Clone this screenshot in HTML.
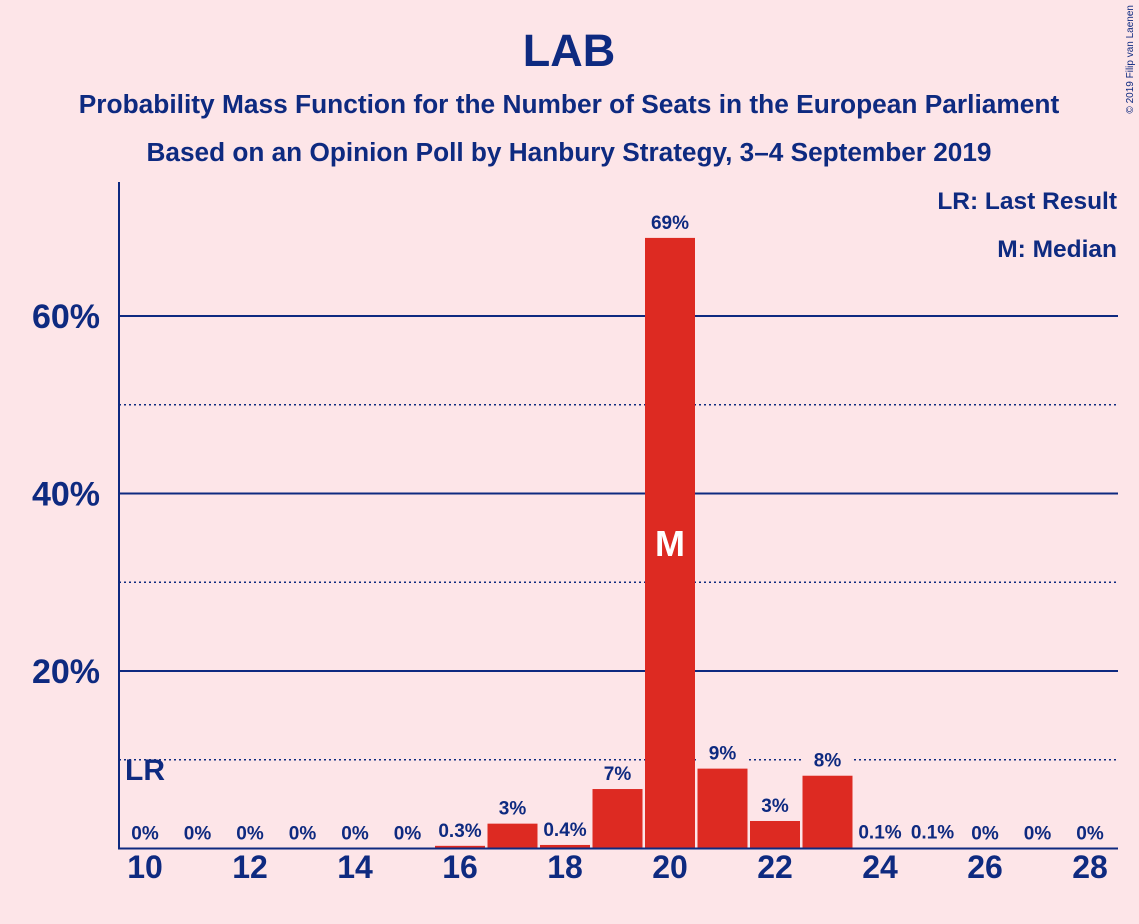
<!DOCTYPE html>
<html><head><meta charset="utf-8"><style>
body{margin:0;background:#fde5e8;}
svg{display:block;font-family:"Liberation Sans",sans-serif;}
</style></head><body>
<svg id="chart" width="1139" height="924" viewBox="0 0 1139 924">
<rect width="1139" height="924" fill="#fde5e8"/>
<text x="569" y="66" text-anchor="middle" font-size="45" font-weight="bold" fill="#0e2a80">LAB</text>
<text x="569" y="113" text-anchor="middle" font-size="26.3" font-weight="bold" fill="#0e2a80">Probability Mass Function for the Number of Seats in the European Parliament</text>
<text x="569" y="161" text-anchor="middle" font-size="26.2" font-weight="bold" fill="#0e2a80">Based on an Opinion Poll by Hanbury Strategy, 3–4 September 2019</text>
<text x="1133" y="5" font-size="10" fill="#0e2a80" transform="rotate(-90 1133 5)" text-anchor="end">© 2019 Filip van Laenen</text>
<text x="1117" y="209" text-anchor="end" font-size="24.5" font-weight="bold" fill="#0e2a80">LR: Last Result</text>
<text x="1117" y="257" text-anchor="end" font-size="24.5" font-weight="bold" fill="#0e2a80">M: Median</text>
<g id="grid"></g>
<g id="bars"></g>
<g id="labels"></g>
<line x1="119" y1="182" x2="119" y2="849" stroke="#0e2a80" stroke-width="2"/>
<line x1="118" y1="848.5" x2="1118" y2="848.5" stroke="#0e2a80" stroke-width="2"/>
</svg>
<script>
const seats=[10,11,12,13,14,15,16,17,18,19,20,21,22,23,24,25,26,27,28];
const probs=[0,0,0,0,0,0,0.3,2.8,0.4,6.7,68.8,9,3.1,8.2,0.1,0.1,0,0,0];
const valueLabels=["0%","0%","0%","0%","0%","0%","0.3%","3%","0.4%","7%","69%","9%","3%","8%","0.1%","0.1%","0%","0%","0%"];
const yTicks=[20,40,60];
const yMinor=[10,30,50];
const xTicks=[10,12,14,16,18,20,22,24,26,28];
const lastResult=10, median=20;
const NS="http://www.w3.org/2000/svg";
const X=s=>145+(s-10)*52.5;
const Y=v=>848.5-v*8.875;
const C="#0e2a80";
function mk(t,a,p){const e=document.createElementNS(NS,t);for(const k in a)e.setAttribute(k,a[k]);p.appendChild(e);return e;}
const grid=document.getElementById('grid'),bars=document.getElementById('bars'),labels=document.getElementById('labels');
yTicks.forEach(v=>{
 const l=mk('line',{x1:119,x2:1118,y1:Y(v),y2:Y(v),stroke:C,'stroke-width':2},grid);
 
 
 const t=mk('text',{x:100,y:Y(v)+12,'text-anchor':'end','font-size':34,'font-weight':'bold',fill:C},labels);
 t.textContent=v+'%';
 
 
});
yMinor.forEach(v=>{
 const l=mk('line',{x1:119,x2:1118,y1:Y(v),y2:Y(v),stroke:C,'stroke-width':1.5,'stroke-dasharray':'2,3'},grid);
 
 
});
seats.forEach((s,i)=>{
 const v=probs[i];
 if(v>0){
  const r=mk('rect',{x:X(s)-25,y:Y(v),width:50,height:848.5-Y(v),fill:'#dd2a22'},bars);
  
  
 }
 const ty=Y(v)-9;
 const bg=mk('rect',{x:X(s)-26,y:ty-18,width:52,height:22,fill:'#fde5e8'},labels);
 
 
 const t=mk('text',{x:X(s),y:ty,'text-anchor':'middle','font-size':19,'font-weight':'bold',fill:C},labels);
 t.textContent=valueLabels[i];
 
 
 if(s===median){
  const m=mk('text',{x:X(s),y:Y(v/2)+13,'text-anchor':'middle','font-size':36,'font-weight':'bold',fill:'#fff'},labels);
  m.textContent='M';
  
  
 }
});
const lr=mk('text',{x:X(lastResult),y:Y(10)+20,'text-anchor':'middle','font-size':30,'font-weight':'bold',fill:C},labels);
lr.textContent='LR';


xTicks.forEach(s=>{
 const t=mk('text',{x:X(s),y:878,'text-anchor':'middle','font-size':32,'font-weight':'bold',fill:C},labels);
 t.textContent=s;
 
 
});
</script>
</body></html>
